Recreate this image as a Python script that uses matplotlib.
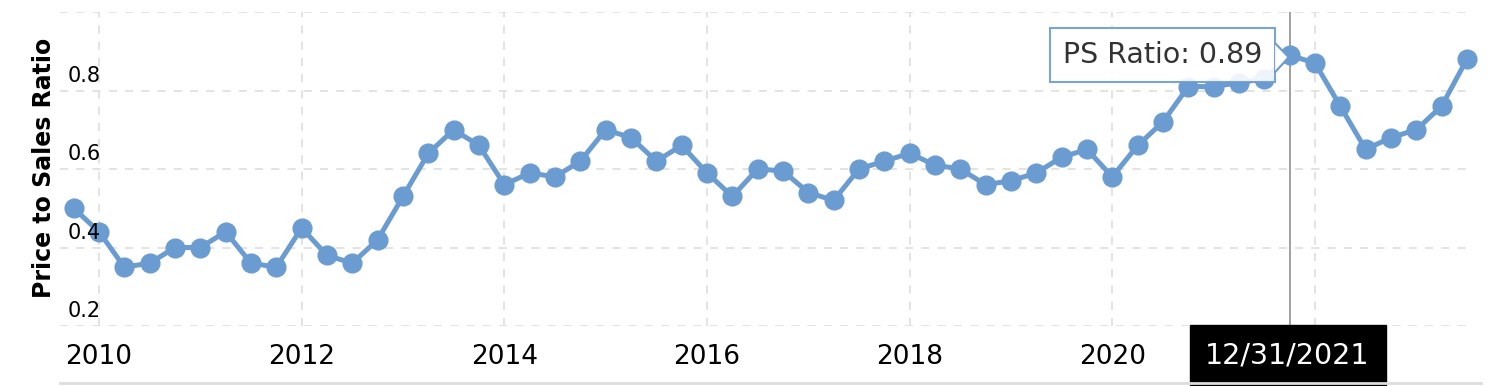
"""
Price to Sales ratio, quarterly, with a hover tooltip.
"""

import pandas as pd
import matplotlib
matplotlib.use('Agg')
import matplotlib.pyplot as plt
from matplotlib.lines import Line2D
from matplotlib.patches import Polygon
from matplotlib.transforms import Affine2D, blended_transform_factory

# Quarter-end dates and PS ratio.
dates = pd.date_range('2009-12-31', periods=56, freq='QE')
ps_ratio = [0.50, 0.44, 0.35, 0.36, 0.40, 0.40, 0.44, 0.36,
            0.35, 0.45, 0.38, 0.36, 0.42, 0.53, 0.64, 0.70,
            0.66, 0.56, 0.59, 0.58, 0.62, 0.70, 0.68, 0.62,
            0.66, 0.59, 0.53, 0.60, 0.595, 0.54, 0.52, 0.60,
            0.62, 0.64, 0.61, 0.60, 0.56, 0.57, 0.59, 0.63,
            0.65, 0.58, 0.66, 0.72, 0.81, 0.81, 0.82, 0.83,
            0.89, 0.87, 0.76, 0.65, 0.68, 0.70, 0.76, 0.88]

year_ticks = [2010, 2012, 2014, 2016, 2018, 2020, 2022]
# 2022 is hidden behind the hover date box.
year_labels = ['2010', '2012', '2014', '2016', '2018', '2020', '']
y_grid = [0.2, 0.4, 0.6, 0.8, 1.0]
y_labels = [0.2, 0.4, 0.6, 0.8]

hover_index = 48
hover_label = '12/31/2021'

BLUE = '#6a9bd1'
GRID = '#e0e0e0'

# Chart positions dates one quarter back from the period end.
x = dates.year + dates.month / 12 - 0.25

fig = plt.figure(figsize=(15.02, 3.86), dpi=100)
ax = fig.add_axes([60 / 1502, 60 / 386, 1411 / 1502, 314 / 386])

ax.plot(x, ps_ratio, color=BLUE, lw=3.6, marker='o', markersize=13.5,
        zorder=3, clip_on=False)

ax.set_xlim(2009.615, 2023.54)
ax.set_ylim(0.2, 1.0)
ax.set_xticks(year_ticks)
ax.set_xticklabels(year_labels)
ax.set_yticks(y_grid)
ax.set_yticklabels([])
ax.tick_params(axis='both', length=0)
ax.tick_params(axis='x', labelsize=19, pad=13, labelcolor='black')
ax.grid(True, color=GRID, lw=1.3, linestyle=(0, (4.5, 4.5)))
ax.set_axisbelow(True)
for s in ax.spines.values():
    s.set_visible(False)

# Y labels sit inside the plot, above their gridline.
tr = blended_transform_factory(ax.transAxes, ax.transData)
for v in y_labels:
    ax.text(0.0057, v + 0.012, '%.1f' % v, transform=tr, ha='left',
            va='bottom', fontsize=15, color='black')

fig.text(44 / 1502, 1 - 168 / 386, 'Price to Sales Ratio', rotation=90,
         ha='center', va='center', fontsize=17, fontweight='bold')

# Bottom rule.
fig.add_artist(Line2D([60 / 1502, 1481 / 1502], [3 / 386, 3 / 386],
                      color='#dddddd', lw=2))

# Hover: vertical line, tooltip and date label.
xh = x[hover_index]
yh = ps_ratio[hover_index]
ax.axvline(xh, color='#999999', lw=1.3, zorder=2)

ax.annotate('PS Ratio: %.2f' % yh, xy=(xh, yh), xytext=(-127, 0),
            textcoords='offset pixels', ha='center', va='center',
            fontsize=20.5, color='#333333', zorder=6,
            bbox=dict(boxstyle='square,pad=0.45', fc='white', alpha=0.9,
                      ec=BLUE, lw=1.5))

# Little pointer on the tooltip's right edge.
px, py = ax.transData.transform((xh, yh))
tip = Polygon([(-14.5, 12), (-1, -2), (-14.5, -17)], closed=False,
              facecolor='white', edgecolor=BLUE, lw=1.5,
              transform=Affine2D().translate(px, py), zorder=6)
fig.add_artist(tip)

ax.annotate(hover_label, xy=(xh, 0), xycoords=('data', 'axes fraction'),
            xytext=(-2, -29), textcoords='offset pixels', ha='center',
            va='center', fontsize=20.5, color='white', zorder=6,
            bbox=dict(boxstyle='square,pad=0.55', fc='black', ec='black'))

fig.savefig('out.png', dpi=100)
